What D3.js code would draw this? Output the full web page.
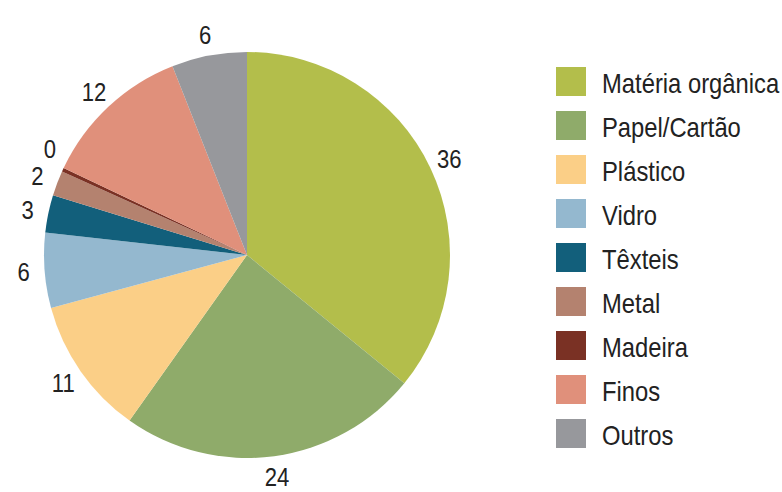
<!DOCTYPE html>
<html>
<head>
<meta charset="utf-8">
<script src="https://cdn.jsdelivr.net/npm/d3@7"></script>
<style>
  body { margin: 0; background: #fff; }
  svg { display: block; font-family: "Liberation Sans", Arial, sans-serif; }
</style>
</head>
<body>
<div id="chart"></div>
<script>
'use strict'

// categories, values (percent) and colours
const categories = ['Matéria orgânica', 'Papel/Cartão', 'Plástico', 'Vidro', 'Têxteis', 'Metal', 'Madeira', 'Finos', 'Outros']
const values = [36, 24, 11, 6, 3, 2, 0.3, 12, 6]
const colors = ['#b3be4b', '#8fab6a', '#fbcf87', '#94b8cf', '#125f7b', '#b4826f', '#7a3124', '#e0907b', '#97989c']

const svgWidth = 782
const svgHeight = 492

const cx = 247, cy = 255
const radius = 203
const labelRadius = 224

const svg = d3.select('#chart')
    .append('svg')
    .attr('width', svgWidth)
    .attr('height', svgHeight)

const data = categories.map((c, i) => ({ name: c, value: values[i], color: colors[i] }))

const pie = d3.pie()
    .value(d => d.value)
    .sort(null)

const arcs = pie(data)

const arc = d3.arc().innerRadius(0).outerRadius(radius)
const labelArc = d3.arc().innerRadius(labelRadius).outerRadius(labelRadius)

const g = svg.append('g')
    .attr('transform', `translate(${cx},${cy})`)

g.selectAll('path')
    .data(arcs)
    .join('path')
    .attr('d', arc)
    .attr('fill', d => d.data.color)

// label positions, nudged apart when small slices crowd each other
const labels = arcs.map(d => {
    const [x, y] = labelArc.centroid(d)
    return { x, y, text: d3.format('.0f')(d.data.value) }
})
for (let i = 1; i < labels.length; i++) {
    const a = labels[i - 1], b = labels[i]
    if (a.x < 0 && b.x < 0 && a.y - b.y < 27 && a.y - b.y >= 0) {
        b.y = a.y - 27
        b.x = -Math.sqrt(Math.max(0, labelRadius * labelRadius - b.y * b.y))
    }
}

g.selectAll('text.lbl')
    .data(labels)
    .join('text')
    .attr('class', 'lbl')
    .attr('transform', d => `translate(${d.x},${d.y}) scale(0.85,1)`)
    .attr('text-anchor', 'middle')
    .attr('dominant-baseline', 'central')
    .attr('font-size', 26)
    .attr('fill', '#222')
    .text(d => d.text)

// legend
const legend = svg.append('g')
    .attr('transform', 'translate(556,67)')

const item = legend.selectAll('g')
    .data(data)
    .join('g')
    .attr('transform', (d, i) => `translate(0,${i * 44})`)

item.append('rect')
    .attr('width', 30)
    .attr('height', 29)
    .attr('fill', d => d.color)

item.append('text')
    .attr('transform', 'translate(46,16) scale(0.85,1)')
    .attr('dominant-baseline', 'central')
    .attr('font-size', 28)
    .attr('fill', '#222')
    .text(d => d.name)
</script>
</body>
</html>
